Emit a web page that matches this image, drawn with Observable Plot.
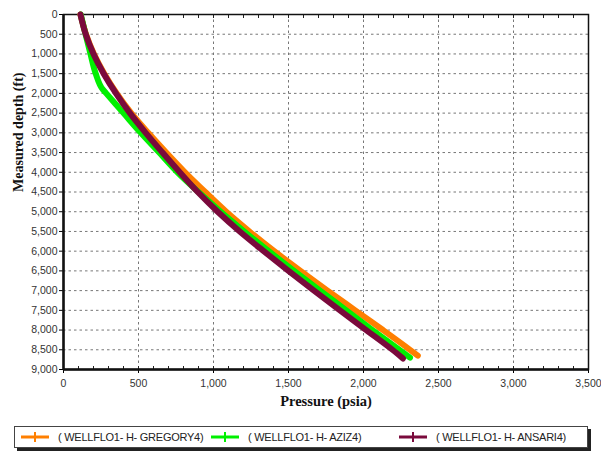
<!DOCTYPE html>
<html>
<head>
<meta charset="utf-8">
<script src="https://cdn.jsdelivr.net/npm/d3@7"></script>
<script src="https://cdn.jsdelivr.net/npm/@observablehq/plot@0.6"></script>
<style>
  body { margin: 0; background: #fff; width: 601px; height: 453px; overflow: hidden; }
  #chart { position: relative; width: 601px; }
  #legend { position: relative; width: 601px; height: 35px; font-family: "Liberation Sans", Arial, sans-serif; font-size: 11px; letter-spacing: -0.25px; color: #222; }
  #legend .box { position: absolute; left: 14px; top: 8px; width: 572px; height: 20px; border: 1px solid #444; box-shadow: 3px 3px 0 #222; background: #fff; }
  #legend .item { position: absolute; top: 12px; height: 14px; display: flex; align-items: center; white-space: nowrap; line-height: 14px; }
  #legend svg { margin-right: 8px; flex: none; }
</style>
</head>
<body>
<div id="chart"></div>
<div id="legend"><div class="box"></div></div>
<script>
// Depth (ft) and pressure (psia) readings for each series
const seriesNames = ["( WELLFLO1- H- GREGORY4)", "( WELLFLO1- H- AZIZ4)", "( WELLFLO1- H- ANSARI4)"];
const seriesColors = ["#FF7F00", "#00F000", "#7A0A3C"];

const gregoryDepth = [0, 500, 1000, 1500, 2000, 2500, 3000, 3500, 4000, 4500, 5000, 5500, 6000, 6500, 7000, 7500, 8000, 8500, 8650];
const gregoryPressure = [113, 150, 203, 272, 355, 452, 565, 685, 810, 945, 1085, 1240, 1405, 1580, 1760, 1945, 2130, 2310, 2362];

const azizDepth = [0, 500, 1000, 1500, 1900, 2000, 2500, 3000, 3500, 4000, 4500, 5000, 5500, 6000, 6500, 7000, 7500, 8000, 8500, 8700];
const azizPressure = [115, 147, 180, 215, 262, 285, 400, 515, 638, 760, 900, 1048, 1205, 1368, 1537, 1710, 1885, 2060, 2238, 2310];

const ansariDepth = [0, 500, 1000, 1500, 2000, 2500, 3000, 3500, 4000, 4500, 5000, 5500, 6000, 6500, 7000, 7500, 8000, 8500, 8720];
const ansariPressure = [113, 148, 200, 268, 350, 443, 548, 660, 775, 895, 1028, 1175, 1335, 1500, 1670, 1843, 2018, 2193, 2263];

const xTicks = [0, 500, 1000, 1500, 2000, 2500, 3000, 3500];
const yTicks = [0, 500, 1000, 1500, 2000, 2500, 3000, 3500, 4000, 4500, 5000, 5500, 6000, 6500, 7000, 7500, 8000, 8500, 9000];
const xLabel = "Pressure (psia)";
const yLabel = "Measured depth (ft)";

const toRows = (name, depths, pressures) => depths.map((d, i) => ({series: name, depth: d, pressure: pressures[i]}));
const rows = [
  ...toRows(seriesNames[0], gregoryDepth, gregoryPressure),
  ...toRows(seriesNames[1], azizDepth, azizPressure),
  ...toRows(seriesNames[2], ansariDepth, ansariPressure)
];

const fmt = d3.format(",");
const tickFont = "Liberation Sans, Arial, sans-serif";
const labelFont = "Liberation Serif, Times New Roman, serif";

const chart = Plot.plot({
  width: 601,
  height: 418,
  marginLeft: 63,
  marginRight: 13,
  marginTop: 14,
  marginBottom: 49,
  style: {background: "#fff", overflow: "visible"},
  x: {domain: [0, 3500], ticks: xTicks, tickFormat: fmt},
  y: {domain: [0, 9000], reverse: true, ticks: yTicks, tickFormat: fmt},
  color: {domain: seriesNames, range: seriesColors},
  marks: [
    Plot.gridX(xTicks, {stroke: "#777", strokeOpacity: 1, strokeDasharray: "2.5,3", strokeWidth: 1}),
    Plot.gridY(yTicks, {stroke: "#777", strokeOpacity: 1, strokeDasharray: "2.5,3", strokeWidth: 1}),
    Plot.axisX(d3.range(0, 3501, 100), {tickSize: -3, tickFormat: null, stroke: "#222", anchor: "bottom", label: null, text: null}),
    Plot.axisX(d3.range(0, 3501, 100), {tickSize: -3, tickFormat: null, stroke: "#222", anchor: "top", label: null, text: null}),
    Plot.axisX(xTicks, {tickSize: 4, tickPadding: 6, tickFormat: fmt, fontFamily: tickFont, fontSize: 10.5, fill: "#333", label: null, anchor: "bottom"}),
    Plot.axisY(yTicks, {tickSize: 4, tickPadding: 2, tickFormat: fmt, fontFamily: tickFont, fontSize: 10.5, fill: "#333", label: null, anchor: "left"}),
    Plot.frame({stroke: "#111", strokeWidth: 1.5}),
    Plot.ruleX([0], {stroke: "#111", strokeWidth: 2.5}),
    Plot.ruleY([9000], {stroke: "#111", strokeWidth: 2.5}),
    Plot.line(rows, {x: "pressure", y: "depth", z: "series", stroke: "series", strokeWidth: 6, curve: "monotone-y"}),
    Plot.text([xLabel], {frameAnchor: "bottom", dy: 36, text: d => d, fontFamily: labelFont, fontWeight: "bold", fontSize: 14.5, fill: "#111"}),
    Plot.text([yLabel], {frameAnchor: "left", dx: -45, rotate: -90, text: d => d, fontFamily: labelFont, fontWeight: "bold", fontSize: 14, fill: "#111"})
  ]
});
document.getElementById("chart").appendChild(chart);

// Legend
const legend = document.getElementById("legend");
const positions = [20, 210, 398];
seriesNames.forEach((name, i) => {
  const item = document.createElement("div");
  item.className = "item";
  item.style.left = positions[i] + "px";
  const c = seriesColors[i];
  item.innerHTML = `<svg width="30" height="12"><line x1="1" y1="6" x2="29" y2="6" stroke="${c}" stroke-width="3"/><line x1="15" y1="1" x2="15" y2="11" stroke="${c}" stroke-width="2"/></svg><span>${name}</span>`;
  legend.appendChild(item);
});
</script>
</body>
</html>
